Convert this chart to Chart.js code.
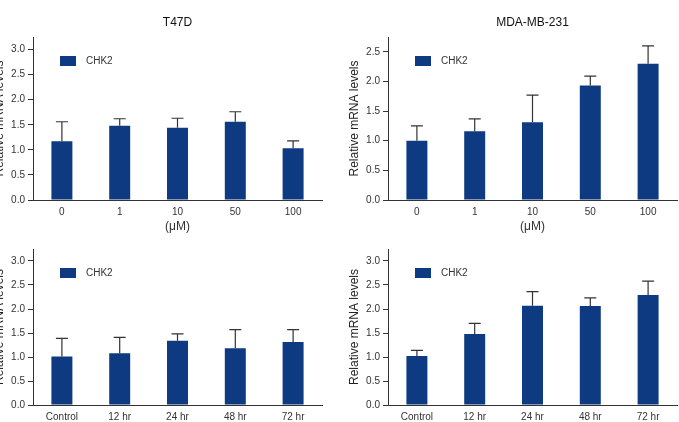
<!DOCTYPE html>
<html>
<head>
<meta charset="utf-8">
<script src="https://cdn.jsdelivr.net/npm/chart.js@4.4.0/dist/chart.umd.min.js"></script>
<style>
  html, body { margin: 0; padding: 0; background: #fff; width: 679px; height: 422px; overflow: hidden; position: relative; }
  canvas { position: absolute; }
</style>
</head>
<body>
<canvas id="chartTL" width="339" height="240" style="left:-15px;top:0"></canvas>
<canvas id="chartTR" width="339" height="240" style="left:340px;top:0"></canvas>
<canvas id="chartBL" width="339" height="182" style="left:-15px;top:240px"></canvas>
<canvas id="chartBR" width="339" height="182" style="left:340px;top:240px"></canvas>
<script>
const doseLabels = ['0', '1', '10', '50', '100'];
const timeLabels = ['Control', '12 hr', '24 hr', '48 hr', '72 hr'];

const t47dDose = [1.17, 1.48, 1.44, 1.56, 1.03];
const t47dDoseSd = [0.39, 0.14, 0.19, 0.20, 0.15];
const mdaDose = [1.00, 1.16, 1.31, 1.93, 2.30];
const mdaDoseSd = [0.25, 0.21, 0.46, 0.16, 0.30];
const t47dTime = [1.01, 1.08, 1.34, 1.18, 1.31];
const t47dTimeSd = [0.38, 0.33, 0.14, 0.39, 0.26];
const mdaTime = [1.02, 1.48, 2.07, 2.06, 2.29];
const mdaTimeSd = [0.12, 0.22, 0.29, 0.17, 0.29];

const BAR = '#0d3a80';
const INK = '#333';
const FONT = "'Liberation Sans', Arial, sans-serif";

// upper error bar + in-plot legend
const extras = {
  id: 'extras',
  afterDatasetsDraw(chart) {
    const { ctx, chartArea, scales } = chart;
    const ds = chart.data.datasets[0];
    const meta = chart.getDatasetMeta(0);
    ctx.save();
    ctx.strokeStyle = INK;
    ctx.lineWidth = 1.2;
    meta.data.forEach((bar, i) => {
      const yTop = scales.y.getPixelForValue(ds.data[i] + ds.sd[i]);
      ctx.beginPath();
      ctx.moveTo(bar.x, bar.y);
      ctx.lineTo(bar.x, yTop);
      ctx.moveTo(bar.x - 6, yTop);
      ctx.lineTo(bar.x + 6, yTop);
      ctx.stroke();
    });
    const lx = chartArea.left + 27, ly = chartArea.top + 19;
    ctx.fillStyle = BAR;
    ctx.fillRect(lx, ly, 16, 10);
    ctx.fillStyle = INK;
    ctx.font = '10px ' + FONT;
    ctx.textBaseline = 'middle';
    ctx.fillText(ds.label, lx + 26, ly + 5.5);
    ctx.restore();
  }
};

function makeChart(id, labels, values, sd, yMax, title, xTitle) {
  const top = !!title;
  return new Chart(document.getElementById(id), {
    type: 'bar',
    data: {
      labels: labels,
      datasets: [{
        label: 'CHK2',
        data: values,
        sd: sd,
        backgroundColor: BAR,
        borderWidth: 0,
        categoryPercentage: 1,
        barPercentage: 0.363
      }]
    },
    plugins: [extras],
    options: {
      responsive: false,
      animation: false,
      devicePixelRatio: 1,
      layout: { padding: { top: top ? 0 : 3, right: 2, left: 0, bottom: 0 } },
      plugins: {
        legend: { display: false },
        tooltip: { enabled: false },
        title: {
          display: top,
          text: title || '',
          fullSize: false,
          color: '#111',
          font: { family: FONT, size: 12, weight: 'normal' },
          padding: { top: 15, bottom: 7.6 }
        }
      },
      scales: {
        x: {
          grid: { display: false, drawTicks: false },
          border: { display: true, color: INK, width: 1 },
          ticks: { color: INK, padding: 6, font: { family: FONT, size: 10 }, maxRotation: 0 },
          title: {
            display: !!xTitle,
            text: xTitle || '',
            color: INK,
            font: { family: FONT, size: 12 },
            padding: { top: 0, bottom: 6 }
          },
          afterFit(s) { s.height = top ? 40 : 17; }
        },
        y: {
          min: 0,
          max: yMax,
          grid: { drawOnChartArea: false, tickLength: 5, color: INK },
          border: { display: true, color: INK, width: 1 },
          ticks: {
            stepSize: 0.5,
            color: INK,
            padding: 3,
            font: { family: FONT, size: 10 },
            callback: v => v.toFixed(1)
          },
          afterBuildTicks(s) { s.ticks = s.ticks.filter(t => Math.abs(t.value * 2 - Math.round(t.value * 2)) < 1e-6); },
          title: {
            display: true,
            text: 'Relative mRNA levels',
            color: '#222',
            font: { family: FONT, size: 12 },
            padding: { top: 7, bottom: 0 }
          },
          afterFit(s) { s.width = 48; }
        }
      }
    }
  });
}

makeChart('chartTL', doseLabels, t47dDose, t47dDoseSd, 3.25, 'T47D', '(\u03bcM)');
makeChart('chartTR', doseLabels, mdaDose, mdaDoseSd, 2.75, 'MDA-MB-231', '(\u03bcM)');
makeChart('chartBL', timeLabels, t47dTime, t47dTimeSd, 3.25, null, null);
makeChart('chartBR', timeLabels, mdaTime, mdaTimeSd, 3.25, null, null);
</script>
</body>
</html>
